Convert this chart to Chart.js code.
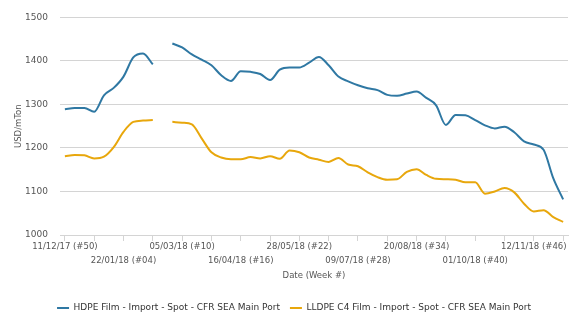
<!DOCTYPE html>
<html>
<head>
<meta charset="utf-8">
<script src="https://cdn.jsdelivr.net/npm/chart.js@4"></script>
<style>
  html, body { margin: 0; padding: 0; background: #fff; }
  #wrap { width: 576px; height: 336px; }
</style>
</head>
<body>
<div id="wrap"><canvas id="myChart" width="576" height="336"></canvas></div>
<script>
// weekly dates (week #)
const weeks = [
    '11/12/17 (#50)', '18/12/17 (#51)', '25/12/17 (#52)', '01/01/18 (#01)', '08/01/18 (#02)', '15/01/18 (#03)',
    '22/01/18 (#04)', '29/01/18 (#05)', '05/02/18 (#06)', '12/02/18 (#07)', '19/02/18 (#08)', '26/02/18 (#09)',
    '05/03/18 (#10)', '12/03/18 (#11)', '19/03/18 (#12)', '26/03/18 (#13)', '02/04/18 (#14)', '09/04/18 (#15)',
    '16/04/18 (#16)', '23/04/18 (#17)', '30/04/18 (#18)', '07/05/18 (#19)', '14/05/18 (#20)', '21/05/18 (#21)',
    '28/05/18 (#22)', '04/06/18 (#23)', '11/06/18 (#24)', '18/06/18 (#25)', '25/06/18 (#26)', '02/07/18 (#27)',
    '09/07/18 (#28)', '16/07/18 (#29)', '23/07/18 (#30)', '30/07/18 (#31)', '06/08/18 (#32)', '13/08/18 (#33)',
    '20/08/18 (#34)', '27/08/18 (#35)', '03/09/18 (#36)', '10/09/18 (#37)', '17/09/18 (#38)', '24/09/18 (#39)',
    '01/10/18 (#40)', '08/10/18 (#41)', '15/10/18 (#42)', '22/10/18 (#43)', '29/10/18 (#44)', '05/11/18 (#45)',
    '12/11/18 (#46)', '19/11/18 (#47)', '26/11/18 (#48)', '03/12/18 (#49)'
]

// USD/mTon, null = no assessment that week
const hdpe = [
    1289, 1292, 1292, 1283, 1321, 1338, 1364, 1408, 1417, 1392,
    null, 1440, 1431, 1415, 1403, 1390, 1367, 1354, 1376, 1375,
    1370, 1356, 1380, 1385, 1385, 1396, 1409, 1390, 1364, 1353,
    1344, 1337, 1333, 1322, 1320, 1325, 1330, 1315, 1298, 1253,
    1276, 1275, 1264, 1252, 1245, 1249, 1236, 1215, 1208, 1196,
    1130, 1082
]
const lldpe = [
    1181, 1184, 1183, 1176, 1180, 1202, 1237, 1260, 1263, 1264,
    null, 1260, 1258, 1254, 1222, 1190, 1178, 1174, 1174, 1179,
    1176, 1181, 1175, 1194, 1190, 1178, 1173, 1168, 1177, 1162,
    1158, 1144, 1133, 1127, 1128, 1145, 1151, 1138, 1129, 1128,
    1127, 1121, 1121, 1095, 1100, 1108, 1098, 1072, 1054, 1057,
    1041, 1030
]

const seriesNames = ['HDPE Film - Import - Spot - CFR SEA Main Port', 'LLDPE C4 Film - Import - Spot - CFR SEA Main Port']
const seriesColors = ['#2f78a3', '#e8a70c']

const font = 'DejaVu Sans'
const gridColor = '#d4d4d4'

let ctx = document.querySelector('#myChart').getContext('2d')
let priceChart = new Chart(ctx, {
    type: 'line',
    data: {
        labels: weeks,
        datasets: [hdpe, lldpe].map((vals, i) => ({
            label: seriesNames[i],
            data: vals,
            borderColor: seriesColors[i],
            backgroundColor: seriesColors[i],
            borderWidth: 2,
            pointRadius: 0,
            cubicInterpolationMode: 'monotone',
            spanGaps: false,
        }))
    },
    options: {
        responsive: false,
        animation: false,
        layout: { padding: { top: 11, right: 8, bottom: 13.5, left: 20 } },
        plugins: {
            tooltip: { enabled: false },
            legend: {
                position: 'bottom',
                labels: {
                    boxWidth: 12,
                    boxHeight: 2,
                    padding: 10,
                    color: '#333',
                    font: { family: font, size: 9 },
                    // flat line swatch, no border
                    generateLabels: chart => Chart.defaults.plugins.legend.labels.generateLabels(chart)
                        .map(l => ({ ...l, lineWidth: 0 })),
                },
            },
        },
        scales: {
            x: {
                offset: true,
                grid: { offset: false, drawOnChartArea: false, drawTicks: true, tickLength: 6, color: gridColor },
                border: { display: true, color: gridColor },
                afterBuildTicks: scale => {
                    // a tick mark every 3 weeks
                    scale.ticks = scale.ticks.filter(t => t.value % 3 === 0)
                },
                afterFit: scale => { scale.height = 58.5 },
                ticks: {
                    autoSkip: false,
                    maxRotation: 0,
                    padding: -1.5,
                    color: '#555',
                    font: { family: font, size: 8.5, lineHeight: '14px' },
                    // labels every 6 weeks, on two staggered rows
                    callback: function (value) {
                        if (value % 6 !== 0) return ''
                        const lab = weeks[value]
                        return (value / 6) % 2 ? ['', lab] : lab
                    },
                },
                title: {
                    display: true,
                    text: 'Date (Week #)',
                    color: '#555',
                    font: { family: font, size: 8.5 },
                    padding: { top: 0, bottom: 12.4 },
                },
            },
            y: {
                min: 1000,
                max: 1500,
                grid: { color: gridColor, drawTicks: false },
                border: { display: false },
                afterFit: scale => { scale.width = 40 },
                ticks: {
                    stepSize: 100,
                    padding: 12,
                    color: '#555',
                    font: { family: font, size: 9 },
                    callback: value => String(value),
                },
                title: {
                    display: true,
                    text: 'USD/mTon',
                    color: '#555',
                    font: { family: font, size: 8.5 },
                    padding: { top: -6, bottom: 0 },
                },
            },
        },
    },
});
</script>
</body>
</html>
